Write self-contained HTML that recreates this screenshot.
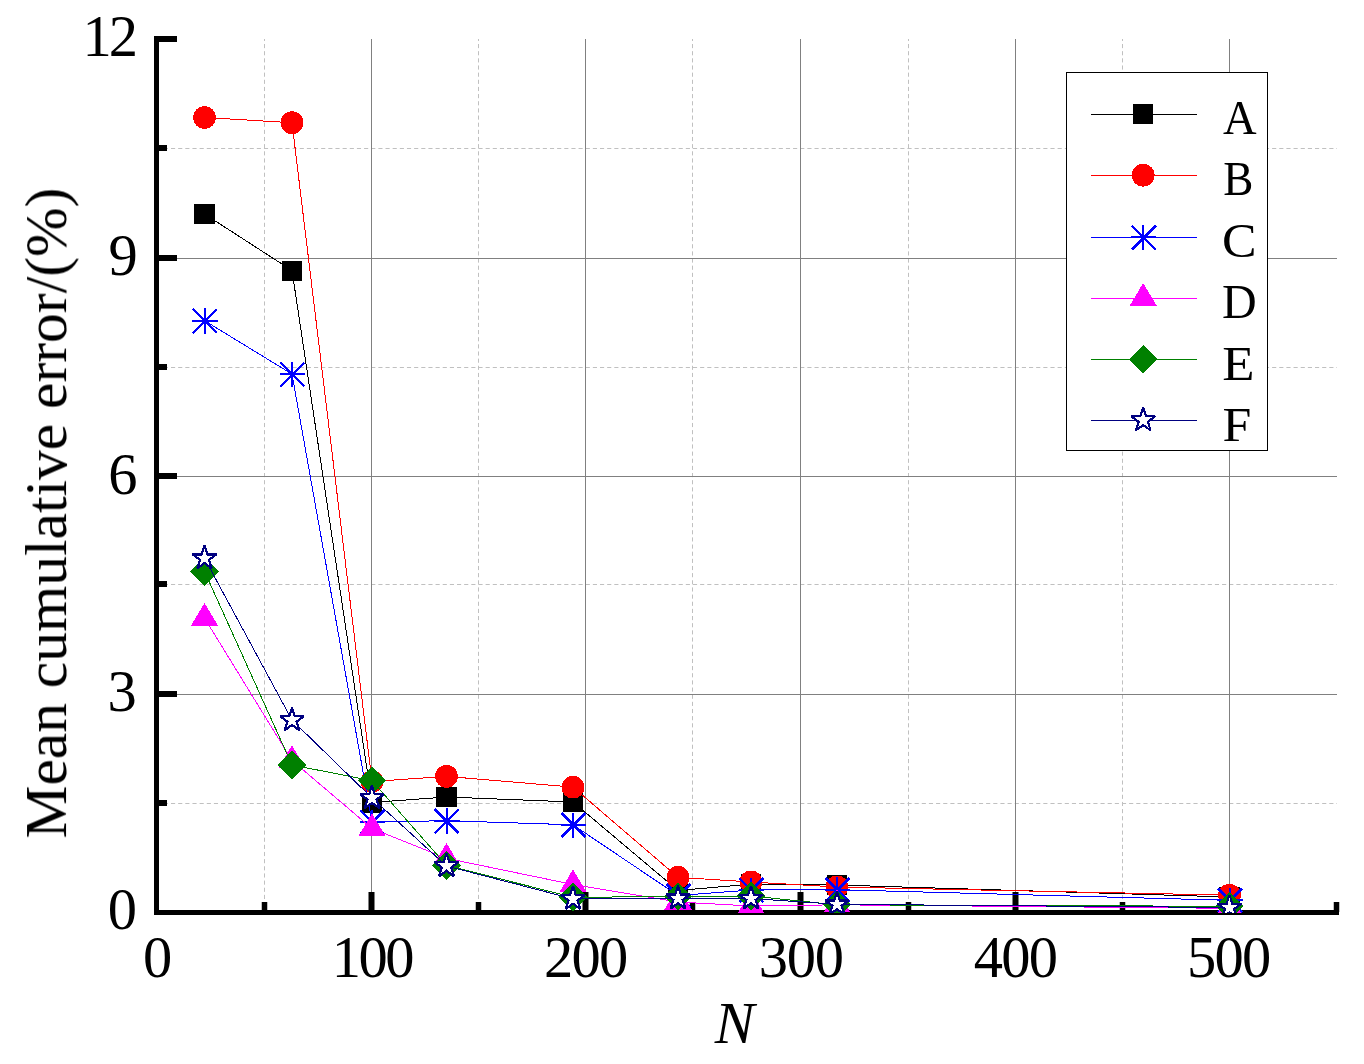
<!DOCTYPE html>
<html><head><meta charset="utf-8"><style>
html,body{margin:0;padding:0;background:#fff;width:1364px;height:1064px;overflow:hidden}
svg{display:block}
text{font-family:"Liberation Serif",serif;fill:#000}
</style></head><body>
<svg width="1364" height="1064" viewBox="0 0 1364 1064">
<rect width="1364" height="1064" fill="#fff"/>
<g><line x1="264.5" y1="39" x2="264.5" y2="910" stroke="#c0c0c0" stroke-width="1" stroke-dasharray="4.15 3" stroke-dashoffset="2.15"/><line x1="478.5" y1="39" x2="478.5" y2="910" stroke="#c0c0c0" stroke-width="1" stroke-dasharray="4.15 3" stroke-dashoffset="2.15"/><line x1="692.5" y1="39" x2="692.5" y2="910" stroke="#c0c0c0" stroke-width="1" stroke-dasharray="4.15 3" stroke-dashoffset="2.15"/><line x1="908.5" y1="39" x2="908.5" y2="910" stroke="#c0c0c0" stroke-width="1" stroke-dasharray="4.15 3" stroke-dashoffset="2.15"/><line x1="1122.5" y1="39" x2="1122.5" y2="910" stroke="#c0c0c0" stroke-width="1" stroke-dasharray="4.15 3" stroke-dashoffset="2.15"/><line x1="157" y1="803.5" x2="1337" y2="803.5" stroke="#c0c0c0" stroke-width="1" stroke-dasharray="4.15 3" stroke-dashoffset="0.3"/><line x1="157" y1="584.5" x2="1337" y2="584.5" stroke="#c0c0c0" stroke-width="1" stroke-dasharray="4.15 3" stroke-dashoffset="0.3"/><line x1="157" y1="367.5" x2="1337" y2="367.5" stroke="#c0c0c0" stroke-width="1" stroke-dasharray="4.15 3" stroke-dashoffset="0.3"/><line x1="157" y1="148.5" x2="1337" y2="148.5" stroke="#c0c0c0" stroke-width="1" stroke-dasharray="4.15 3" stroke-dashoffset="0.3"/><line x1="371.5" y1="39" x2="371.5" y2="910" stroke="#808080" stroke-width="1"/><line x1="585.5" y1="39" x2="585.5" y2="910" stroke="#808080" stroke-width="1"/><line x1="800.5" y1="39" x2="800.5" y2="910" stroke="#808080" stroke-width="1"/><line x1="1015.5" y1="39" x2="1015.5" y2="910" stroke="#808080" stroke-width="1"/><line x1="1229.5" y1="39" x2="1229.5" y2="910" stroke="#808080" stroke-width="1"/><line x1="157" y1="694.5" x2="1337" y2="694.5" stroke="#808080" stroke-width="1"/><line x1="157" y1="476.5" x2="1337" y2="476.5" stroke="#808080" stroke-width="1"/><line x1="157" y1="258.5" x2="1337" y2="258.5" stroke="#808080" stroke-width="1"/></g>
<rect x="154" y="36" width="5" height="879" fill="#000"/><rect x="154" y="910" width="1185" height="5" fill="#000"/><rect x="154" y="36" width="23" height="6" fill="#000"/><rect x="154" y="255" width="23" height="6" fill="#000"/><rect x="154" y="473" width="23" height="6" fill="#000"/><rect x="154" y="691" width="23" height="6" fill="#000"/><rect x="154" y="145" width="13" height="6" fill="#000"/><rect x="154" y="364" width="13" height="6" fill="#000"/><rect x="154" y="581" width="13" height="6" fill="#000"/><rect x="154" y="800" width="13" height="6" fill="#000"/><rect x="368.5" y="892" width="6" height="20" fill="#000"/><rect x="582.5" y="892" width="6" height="20" fill="#000"/><rect x="797.5" y="892" width="6" height="20" fill="#000"/><rect x="1012.5" y="892" width="6" height="20" fill="#000"/><rect x="1226.5" y="892" width="6" height="20" fill="#000"/><rect x="261.75" y="902" width="5.5" height="10" fill="#000"/><rect x="475.75" y="902" width="5.5" height="10" fill="#000"/><rect x="689.75" y="902" width="5.5" height="10" fill="#000"/><rect x="905.75" y="902" width="5.5" height="10" fill="#000"/><rect x="1119.75" y="902" width="5.5" height="10" fill="#000"/><rect x="1333.75" y="902" width="5.5" height="10" fill="#000"/>
<defs><clipPath id="pc"><rect x="0" y="0" width="1364" height="913"/></clipPath></defs>
<g clip-path="url(#pc)" shape-rendering="crispEdges"><polyline points="204.50,214.00 292.00,270.50 372.00,802.50 446.50,797.00 573.00,802.00 678.00,890.50 751.00,884.20 837.00,885.00 1229.50,897.00" fill="none" stroke="#000000" stroke-width="1.0"/><rect x="194.25" y="204.00" width="20.5" height="20" fill="#000000"/><rect x="281.75" y="260.50" width="20.5" height="20" fill="#000000"/><rect x="361.75" y="792.50" width="20.5" height="20" fill="#000000"/><rect x="436.25" y="787.00" width="20.5" height="20" fill="#000000"/><rect x="562.75" y="792.00" width="20.5" height="20" fill="#000000"/><rect x="667.75" y="880.50" width="20.5" height="20" fill="#000000"/><rect x="740.75" y="874.20" width="20.5" height="20" fill="#000000"/><rect x="826.75" y="875.00" width="20.5" height="20" fill="#000000"/><rect x="1219.25" y="887.00" width="20.5" height="20" fill="#000000"/><polyline points="204.50,117.50 292.00,122.70 372.00,781.50 446.50,776.40 573.00,787.10 678.00,877.30 751.00,882.00 837.00,887.00 1229.50,895.20" fill="none" stroke="#ff0000" stroke-width="1.0"/><circle cx="204.50" cy="117.50" r="11.4" fill="#ff0000"/><circle cx="292.00" cy="122.70" r="11.4" fill="#ff0000"/><circle cx="372.00" cy="781.50" r="11.4" fill="#ff0000"/><circle cx="446.50" cy="776.40" r="11.4" fill="#ff0000"/><circle cx="573.00" cy="787.10" r="11.4" fill="#ff0000"/><circle cx="678.00" cy="877.30" r="11.4" fill="#ff0000"/><circle cx="751.00" cy="882.00" r="11.4" fill="#ff0000"/><circle cx="837.00" cy="887.00" r="11.4" fill="#ff0000"/><circle cx="1229.50" cy="895.20" r="11.4" fill="#ff0000"/><polyline points="204.50,320.60 292.00,374.10 372.00,822.00 446.50,820.70 573.00,824.80 678.00,895.50 751.00,890.00 837.00,889.70 1229.50,900.30" fill="none" stroke="#0000ff" stroke-width="1.0"/><path d="M204.50 308.30V333.70M192.20 320.60H217.60" stroke="#0000ff" stroke-width="2.0" fill="none"/><path d="M192.90 309.00L216.90 333.00M192.90 333.00L216.90 309.00" stroke="#0000ff" stroke-width="2.6" fill="none"/><path d="M292.00 361.80V387.20M279.70 374.10H305.10" stroke="#0000ff" stroke-width="2.0" fill="none"/><path d="M280.40 362.50L304.40 386.50M280.40 386.50L304.40 362.50" stroke="#0000ff" stroke-width="2.6" fill="none"/><path d="M372.00 809.70V835.10M359.70 822.00H385.10" stroke="#0000ff" stroke-width="2.0" fill="none"/><path d="M360.40 810.40L384.40 834.40M360.40 834.40L384.40 810.40" stroke="#0000ff" stroke-width="2.6" fill="none"/><path d="M446.50 808.40V833.80M434.20 820.70H459.60" stroke="#0000ff" stroke-width="2.0" fill="none"/><path d="M434.90 809.10L458.90 833.10M434.90 833.10L458.90 809.10" stroke="#0000ff" stroke-width="2.6" fill="none"/><path d="M573.00 812.50V837.90M560.70 824.80H586.10" stroke="#0000ff" stroke-width="2.0" fill="none"/><path d="M561.40 813.20L585.40 837.20M561.40 837.20L585.40 813.20" stroke="#0000ff" stroke-width="2.6" fill="none"/><path d="M678.00 883.20V908.60M665.70 895.50H691.10" stroke="#0000ff" stroke-width="2.0" fill="none"/><path d="M666.40 883.90L690.40 907.90M666.40 907.90L690.40 883.90" stroke="#0000ff" stroke-width="2.6" fill="none"/><path d="M751.00 877.70V903.10M738.70 890.00H764.10" stroke="#0000ff" stroke-width="2.0" fill="none"/><path d="M739.40 878.40L763.40 902.40M739.40 902.40L763.40 878.40" stroke="#0000ff" stroke-width="2.6" fill="none"/><path d="M837.00 877.40V902.80M824.70 889.70H850.10" stroke="#0000ff" stroke-width="2.0" fill="none"/><path d="M825.40 878.10L849.40 902.10M825.40 902.10L849.40 878.10" stroke="#0000ff" stroke-width="2.6" fill="none"/><path d="M1229.50 888.00V913.40M1217.20 900.30H1242.60" stroke="#0000ff" stroke-width="2.0" fill="none"/><path d="M1217.90 888.70L1241.90 912.70M1217.90 912.70L1241.90 888.70" stroke="#0000ff" stroke-width="2.6" fill="none"/><polyline points="204.50,618.10 292.00,760.50 372.00,828.50 446.50,858.30 573.00,884.50 678.00,902.00 751.00,906.00 837.00,904.80 1229.50,908.30" fill="none" stroke="#ff00ff" stroke-width="1.0"/><path d="M204.50 602.90L218.10 625.70L190.90 625.70Z" fill="#ff00ff"/><path d="M292.00 745.30L305.60 768.10L278.40 768.10Z" fill="#ff00ff"/><path d="M372.00 813.30L385.60 836.10L358.40 836.10Z" fill="#ff00ff"/><path d="M446.50 843.10L460.10 865.90L432.90 865.90Z" fill="#ff00ff"/><path d="M573.00 869.30L586.60 892.10L559.40 892.10Z" fill="#ff00ff"/><path d="M678.00 886.80L691.60 909.60L664.40 909.60Z" fill="#ff00ff"/><path d="M751.00 890.80L764.60 913.60L737.40 913.60Z" fill="#ff00ff"/><path d="M837.00 889.60L850.60 912.40L823.40 912.40Z" fill="#ff00ff"/><path d="M1229.50 893.10L1243.10 915.90L1215.90 915.90Z" fill="#ff00ff"/><polyline points="204.50,571.40 292.00,765.00 372.00,780.70 446.50,865.40 573.00,897.20 678.00,896.70 751.00,896.00 837.00,904.80 1229.50,906.30" fill="none" stroke="#008000" stroke-width="1.0"/><path d="M204.50 557.20L218.70 571.40L204.50 585.60L190.30 571.40Z" fill="#008000"/><path d="M292.00 750.80L306.20 765.00L292.00 779.20L277.80 765.00Z" fill="#008000"/><path d="M372.00 766.50L386.20 780.70L372.00 794.90L357.80 780.70Z" fill="#008000"/><path d="M446.50 851.20L460.70 865.40L446.50 879.60L432.30 865.40Z" fill="#008000"/><path d="M573.00 883.00L587.20 897.20L573.00 911.40L558.80 897.20Z" fill="#008000"/><path d="M678.00 882.50L692.20 896.70L678.00 910.90L663.80 896.70Z" fill="#008000"/><path d="M751.00 881.80L765.20 896.00L751.00 910.20L736.80 896.00Z" fill="#008000"/><path d="M837.00 890.60L851.20 904.80L837.00 919.00L822.80 904.80Z" fill="#008000"/><path d="M1229.50 892.10L1243.70 906.30L1229.50 920.50L1215.30 906.30Z" fill="#008000"/><polyline points="204.50,558.30 292.00,720.10 372.00,798.00 446.50,866.00 573.00,898.90 678.00,898.40 751.00,898.50 837.00,904.30 1229.50,907.50" fill="none" stroke="#000080" stroke-width="1.0"/><path d="M204.50 545.70L207.33 554.41L216.48 554.41L209.08 559.79L211.91 568.49L204.50 563.11L197.09 568.49L199.92 559.79L192.52 554.41L201.67 554.41Z" fill="#ffffff" stroke="#000080" stroke-width="2.2" stroke-linejoin="miter" stroke-miterlimit="2"/><path d="M292.00 707.50L294.83 716.21L303.98 716.21L296.58 721.59L299.41 730.29L292.00 724.91L284.59 730.29L287.42 721.59L280.02 716.21L289.17 716.21Z" fill="#ffffff" stroke="#000080" stroke-width="2.2" stroke-linejoin="miter" stroke-miterlimit="2"/><path d="M372.00 785.40L374.83 794.11L383.98 794.11L376.58 799.49L379.41 808.19L372.00 802.81L364.59 808.19L367.42 799.49L360.02 794.11L369.17 794.11Z" fill="#ffffff" stroke="#000080" stroke-width="2.2" stroke-linejoin="miter" stroke-miterlimit="2"/><path d="M446.50 853.40L449.33 862.11L458.48 862.11L451.08 867.49L453.91 876.19L446.50 870.81L439.09 876.19L441.92 867.49L434.52 862.11L443.67 862.11Z" fill="#ffffff" stroke="#000080" stroke-width="2.2" stroke-linejoin="miter" stroke-miterlimit="2"/><path d="M573.00 886.30L575.83 895.01L584.98 895.01L577.58 900.39L580.41 909.09L573.00 903.71L565.59 909.09L568.42 900.39L561.02 895.01L570.17 895.01Z" fill="#ffffff" stroke="#000080" stroke-width="2.2" stroke-linejoin="miter" stroke-miterlimit="2"/><path d="M678.00 885.80L680.83 894.51L689.98 894.51L682.58 899.89L685.41 908.59L678.00 903.21L670.59 908.59L673.42 899.89L666.02 894.51L675.17 894.51Z" fill="#ffffff" stroke="#000080" stroke-width="2.2" stroke-linejoin="miter" stroke-miterlimit="2"/><path d="M751.00 885.90L753.83 894.61L762.98 894.61L755.58 899.99L758.41 908.69L751.00 903.31L743.59 908.69L746.42 899.99L739.02 894.61L748.17 894.61Z" fill="#ffffff" stroke="#000080" stroke-width="2.2" stroke-linejoin="miter" stroke-miterlimit="2"/><path d="M837.00 891.70L839.83 900.41L848.98 900.41L841.58 905.79L844.41 914.49L837.00 909.11L829.59 914.49L832.42 905.79L825.02 900.41L834.17 900.41Z" fill="#ffffff" stroke="#000080" stroke-width="2.2" stroke-linejoin="miter" stroke-miterlimit="2"/><path d="M1229.50 894.90L1232.33 903.61L1241.48 903.61L1234.08 908.99L1236.91 917.69L1229.50 912.31L1222.09 917.69L1224.92 908.99L1217.52 903.61L1226.67 903.61Z" fill="#ffffff" stroke="#000080" stroke-width="2.2" stroke-linejoin="miter" stroke-miterlimit="2"/></g>
<g style="filter:grayscale(1)"><text x="82.60" y="56.00" font-size="58.5" letter-spacing="-3.2">12</text><text x="108.50" y="275.25" font-size="58.5">9</text><text x="108.25" y="493.75" font-size="58.5">6</text><text x="107.50" y="710.50" font-size="58.5">3</text><text x="107.75" y="928.50" font-size="58.5">0</text><text x="143.00" y="977.00" font-size="58.5">0</text><text x="331.80" y="977.00" font-size="58.5" letter-spacing="-2.55">100</text><text x="543.90" y="977.25" font-size="58.5" letter-spacing="-1.65">200</text><text x="758.80" y="977.00" font-size="58.5" letter-spacing="-1.3">300</text><text x="973.70" y="977.00" font-size="58.5" letter-spacing="-1.7">400</text><text x="1187.10" y="977.25" font-size="58.5" letter-spacing="-1.85">500</text><text x="714.75" y="1043.20" font-size="59.5" font-style="italic">N</text><text transform="translate(66.05,838.50) rotate(-90)" font-size="59.5">Mean cumulative error/(%)</text></g>
<g shape-rendering="crispEdges"><rect x="1066.5" y="72.5" width="201" height="378" fill="#fff" stroke="#000" stroke-width="1"/><line x1="1091" y1="114.5" x2="1197" y2="114.5" stroke="#000000" stroke-width="1"/><rect x="1132.95" y="104.20" width="20.5" height="20" fill="#000000"/><text transform="translate(1223.00,134.25) scale(0.97,1)" font-size="48" style="filter:grayscale(1)">A</text><line x1="1091" y1="175.5" x2="1197" y2="175.5" stroke="#ff0000" stroke-width="1"/><circle cx="1143.20" cy="175.20" r="11.4" fill="#ff0000"/><text transform="translate(1223.25,195.25) scale(0.94,1)" font-size="48" style="filter:grayscale(1)">B</text><line x1="1091" y1="237.5" x2="1197" y2="237.5" stroke="#0000ff" stroke-width="1"/><path d="M1143.20 224.90V250.30M1130.90 237.20H1156.30" stroke="#0000ff" stroke-width="2.0" fill="none"/><path d="M1131.60 225.60L1155.60 249.60M1131.60 249.60L1155.60 225.60" stroke="#0000ff" stroke-width="2.6" fill="none"/><text transform="translate(1222.00,256.50) scale(1.08,1)" font-size="48" style="filter:grayscale(1)">C</text><line x1="1091" y1="298.5" x2="1197" y2="298.5" stroke="#ff00ff" stroke-width="1"/><path d="M1143.20 283.00L1156.80 305.80L1129.60 305.80Z" fill="#ff00ff"/><text transform="translate(1222.00,317.50) scale(1,1)" font-size="48" style="filter:grayscale(1)">D</text><line x1="1091" y1="359.5" x2="1197" y2="359.5" stroke="#008000" stroke-width="1"/><path d="M1143.20 345.00L1157.40 359.20L1143.20 373.40L1129.00 359.20Z" fill="#008000"/><text transform="translate(1222.25,379.75) scale(1.1,1)" font-size="48" style="filter:grayscale(1)">E</text><line x1="1091" y1="420.5" x2="1197" y2="420.5" stroke="#000080" stroke-width="1"/><path d="M1143.20 407.60L1146.03 416.31L1155.18 416.31L1147.78 421.69L1150.61 430.39L1143.20 425.01L1135.79 430.39L1138.62 421.69L1131.22 416.31L1140.37 416.31Z" fill="#ffffff" stroke="#000080" stroke-width="2.2" stroke-linejoin="miter" stroke-miterlimit="2"/><text transform="translate(1222.50,440.75) scale(1.08,1)" font-size="48" style="filter:grayscale(1)">F</text></g>
</svg></body></html>
